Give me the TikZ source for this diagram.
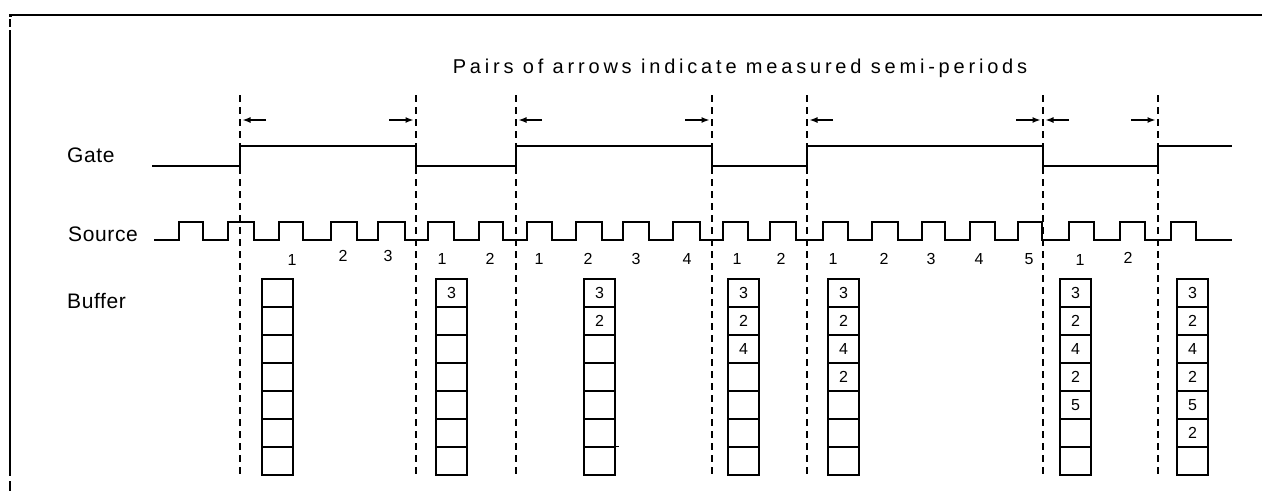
\documentclass[tikz,border=0pt]{standalone}
\usepackage{fontspec}
\setmainfont{Liberation Sans}
\newfontfamily\titlefont[LetterSpace=19]{Liberation Sans}
\newfontfamily\labelfont[LetterSpace=3]{Liberation Sans}
\usetikzlibrary{arrows.meta}
\tikzset{
  wave/.style={line width=1.7pt,line join=miter},
  edgeline/.style={line width=1.6pt,dash pattern=on 7pt off 5pt},
  semiarrow/.style={line width=1.4pt,-{Latex[length=8pt,width=6pt]}},
  cell/.style={draw,line width=1.6pt,minimum width=31pt,minimum height=28pt,inner sep=0pt},
  rowlabel/.style={anchor=base west,inner sep=0pt,font=\labelfont\fontsize{21}{24}\selectfont},
  countlabel/.style={anchor=base,inner sep=0pt,font=\fontsize{16}{18}\selectfont}
}
\begin{document}
\begin{tikzpicture}[x=1pt,y=-1pt]
  \useasboundingbox (0,0) rectangle (1262,491);
  % frame
  \draw[line width=2.5pt] (12,15) -- (1262,15);
  \fill (8.5,13.5) rectangle (12,17);
  \draw[line width=2.2pt] (10,19) -- (10,27) (10,30) -- (10,476) (10,481) -- (10,491);
  \node[anchor=base,inner sep=0pt,font=\titlefont\fontsize{20}{24}\selectfont] (title)
    at (740,73) {Pairs of arrows indicate measured semi-periods};
  \node[rowlabel] (gate) at (67,162) {Gate};
  \node[rowlabel] (source) at (68,241) {Source};
  \node[rowlabel] (buffer) at (67,308) {Buffer};
  % gate edges
  \foreach \x [count=\e] in {240,416,516,712,807,1043,1158}{
    \draw[edgeline] (\x,95) -- (\x,476);
    \coordinate (edge\e) at (\x,120);
  }
  \draw[wave] (152,166) -- (240,166) -- (240,146) -- (416,146) -- (416,166) -- (516,166)
    -- (516,146) -- (712,146) -- (712,166) -- (807,166) -- (807,146) -- (1043,146)
    -- (1043,166) -- (1158,166) -- (1158,146) -- (1232,146);
  \foreach \e in {1,3,5,6}
    \draw[semiarrow] ([xshift=26pt]edge\e) -- ([xshift=2.5pt]edge\e);
  \foreach \e in {2,4,6,7}
    \draw[semiarrow] ([xshift=-27pt]edge\e) -- ([xshift=-2.5pt]edge\e);
  % source clock
  \draw[wave] (154,240) foreach \r/\f in {179/203,228/254,279/303,331/357,378/405,428/454,
      479/503,527/552,576/602,623/649,673/700,723/748,770/796,823/848,872/898,922/945,
      970/995,1018/1042,1069/1094,1120/1145,1171/1196}
    { -- (\r,240) -- (\r,222) -- (\f,222) -- (\f,240) } -- (1232,240);
  \foreach \x/\n/\y [count=\k] in {292/1/265,343/2/261,388/3/261,442/1/264,490/2/264,
      539/1/264,588/2/264,636/3/264,687/4/264,737/1/264,781/2/264,833/1/264,884/2/264,
      931/3/264,979/4/264,1029/5/264,1080/1/265,1128/2/263}
    \node[countlabel] (count\k) at (\x,\y) {\n};
  % buffers
  \foreach \xl [count=\c] in {262,436,584,728,828,1060,1177}
    \foreach \r in {1,...,7}
      \node[cell] (b\c-\r) at (\xl+15.5,265+28*\r) {};
  \draw[line width=1.2pt] (b3-7.north east) -- ++(3,0);
  \foreach \c/\vals in {2/{3},3/{3,2},4/{3,2,4},5/{3,2,4,2},6/{3,2,4,2,5},7/{3,2,4,2,5,2}}
    \foreach \d [count=\r] in \vals
      \node[font=\fontsize{16}{17}\selectfont] at (b\c-\r) {\d};
\end{tikzpicture}
\end{document}
